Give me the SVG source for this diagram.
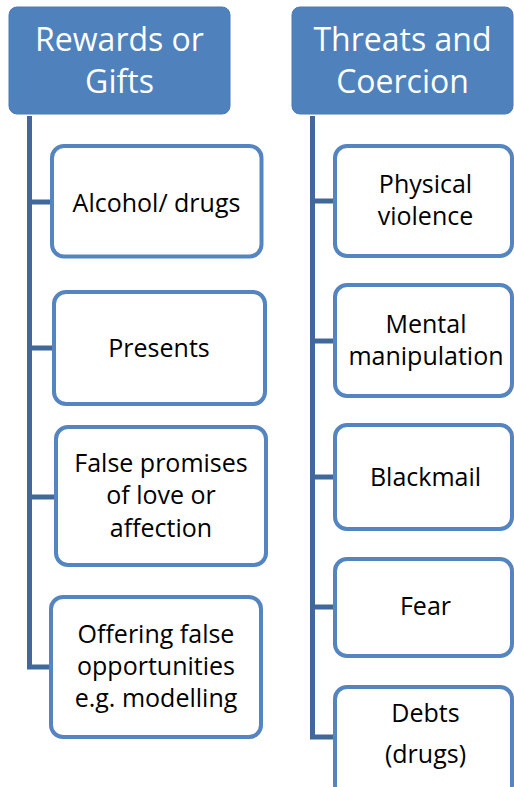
<svg xmlns="http://www.w3.org/2000/svg" width="514" height="787" viewBox="0 0 514 787">
<style>
.hdr{fill:#4F81BD;stroke:#4A7AB5;stroke-width:1}
.box{fill:#FFFFFF;stroke:#5585C0;stroke-width:4}
.conn{fill:none;stroke:#41689B;stroke-width:5;stroke-linejoin:miter}
.ht{font-family:"Open Sans","Liberation Sans",sans-serif;font-size:32px;fill:#FFFFFF;text-anchor:middle}
.bt{font-family:"Open Sans","Liberation Sans",sans-serif;font-size:25px;fill:#000000;text-anchor:middle}
</style>
<rect width="514" height="787" fill="#FFFFFF"/>
<g id="connectors">
<path class="conn" d="M29.5,116 V669.5 M29.5,202 H52 M29.5,348 H54 M29.5,497 H56 M29.5,667 H51"/>
<path class="conn" d="M312.5,116 V739.5 M312.5,201 H335 M312.5,341 H335 M312.5,477 H335 M312.5,607 H335 M312.5,737 H335"/>
</g>
<g id="h1">
<rect class="hdr" x="9" y="7" width="221" height="107" rx="8"/>
<text class="ht" x="119.5" y="51">Rewards or</text>
<text class="ht" x="119.5" y="93">Gifts</text>
</g>
<g id="h2">
<rect class="hdr" x="292" y="7" width="221" height="107" rx="8"/>
<text class="ht" x="402.5" y="51">Threats and</text>
<text class="ht" x="402.5" y="93">Coercion</text>
</g>
<g id="l1">
<rect class="box" x="52" y="146" width="209.5" height="110.5" rx="12"/>
<text class="bt" x="156.5" y="212">Alcohol/ drugs</text>
</g>
<g id="l2">
<rect class="box" x="54" y="292" width="211" height="112" rx="12"/>
<text class="bt" x="159" y="357">Presents</text>
</g>
<g id="l3">
<rect class="box" x="56" y="427" width="210" height="138" rx="12"/>
<text class="bt" x="161" y="472">False promises</text>
<text class="bt" x="161" y="504">of love or</text>
<text class="bt" x="161" y="537">affection</text>
</g>
<g id="l4">
<rect class="box" x="51" y="597" width="210" height="140" rx="12"/>
<text class="bt" x="156" y="643">Offering false</text>
<text class="bt" x="156" y="675">opportunities</text>
<text class="bt" x="156" y="707">e.g. modelling</text>
</g>
<g id="r1">
<rect class="box" x="335" y="146" width="177" height="110" rx="12"/>
<text class="bt" x="425.5" y="193">Physical</text>
<text class="bt" x="425.5" y="225">violence</text>
</g>
<g id="r2">
<rect class="box" x="335" y="285" width="177" height="111" rx="12"/>
<text class="bt" x="426" y="333">Mental</text>
<text class="bt" x="426" y="365">manipulation</text>
</g>
<g id="r3">
<rect class="box" x="335" y="425" width="177" height="104" rx="12"/>
<text class="bt" x="425.5" y="486">Blackmail</text>
</g>
<g id="r4">
<rect class="box" x="335" y="559" width="177" height="97" rx="12"/>
<text class="bt" x="425.5" y="615">Fear</text>
</g>
<g id="r5">
<rect class="box" x="335" y="687" width="177" height="110" rx="12"/>
<text class="bt" x="425.5" y="722">Debts</text>
<text class="bt" x="425.5" y="763">(drugs)</text>
</g>
</svg>
